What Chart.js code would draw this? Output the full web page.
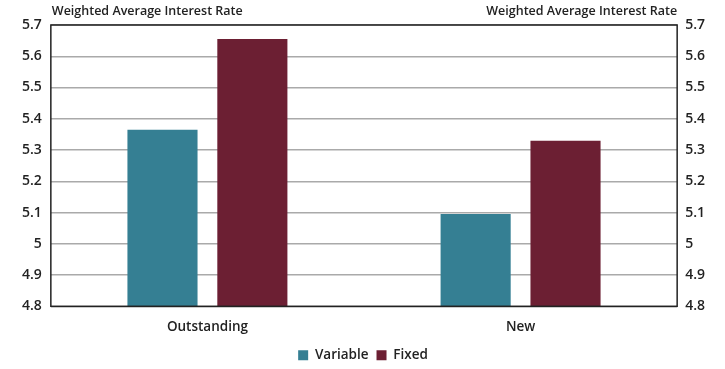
<!DOCTYPE html>
<html>
<head>
<meta charset="utf-8">
<script src="https://cdn.jsdelivr.net/npm/chart.js"></script>
<style>
  body { margin: 0; background: #fff; }
  #wrap { width: 725px; height: 369px; }
</style>
</head>
<body>
<div id="wrap"><canvas id="rateChart"></canvas></div>
<script>
  // data
  const categories = ['Outstanding', 'New'];
  const variableRates = [5.365, 5.095];
  const fixedRates = [5.655, 5.33];
  const axisTitle = 'Weighted Average Interest Rate';

  const fontName = "'Open Sans', 'DejaVu Sans', sans-serif";

  // frame round the plot + the two axis captions on top
  const frameAndCaptions = {
    id: 'frameAndCaptions',
    afterDraw(chart) {
      const { ctx, chartArea } = chart;
      ctx.save();
      ctx.strokeStyle = '#222';
      ctx.lineWidth = 1.5;
      ctx.strokeRect(chartArea.left, chartArea.top, chartArea.right - chartArea.left, chartArea.bottom - chartArea.top);
      ctx.fillStyle = '#222';
      ctx.font = "600 12.5px " + fontName;
      ctx.textBaseline = 'middle';
      ctx.textAlign = 'left';
      ctx.fillText(axisTitle, chartArea.left + 1, 11);
      ctx.textAlign = 'right';
      ctx.fillText(axisTitle, chartArea.right, 11);
      ctx.restore();
    }
  };

  const tickFmt = v => String(Number(v.toFixed(1)));

  new Chart(document.getElementById('rateChart'), {
    type: 'bar',
    data: {
      labels: categories,
      datasets: [{
        label: 'Variable',
        data: variableRates,
        backgroundColor: '#357f93',
        yAxisID: 'y'
      }, {
        label: 'Fixed',
        data: fixedRates,
        backgroundColor: '#6c1f33',
        yAxisID: 'y'
      }]
    },
    options: {
      responsive: true,
      maintainAspectRatio: false,
      animation: false,
      layout: { padding: { top: 25, left: 13, right: 12, bottom: -3 } },
      datasets: {
        bar: { categoryPercentage: 0.574, barPercentage: 0.78 }
      },
      scales: {
        x: {
          grid: { display: false },
          border: { display: false },
          ticks: { color: '#222', font: { family: fontName, size: 13.5, weight: '600' }, padding: 5 }
        },
        y: {
          position: 'left',
          min: 4.8,
          max: 5.7,
          grid: { color: '#aaa', lineWidth: 1.5, drawTicks: false },
          border: { display: false },
          ticks: { stepSize: 0.1, callback: tickFmt, color: '#222', padding: 9, font: { family: fontName, size: 14, weight: '600' } }
        },
        y2: {
          position: 'right',
          min: 4.8,
          max: 5.7,
          grid: { display: false, drawTicks: false },
          border: { display: false },
          ticks: { stepSize: 0.1, callback: tickFmt, color: '#222', padding: 8, font: { family: fontName, size: 14, weight: '600' } }
        }
      },
      plugins: {
        legend: {
          position: 'bottom',
          labels: {
            boxWidth: 10,
            boxHeight: 10,
            color: '#222',
            padding: 8,
            font: { family: fontName, size: 13.5, weight: '600' }
          }
        },
        tooltip: { enabled: false }
      }
    },
    plugins: [frameAndCaptions]
  });
</script>
</body>
</html>
